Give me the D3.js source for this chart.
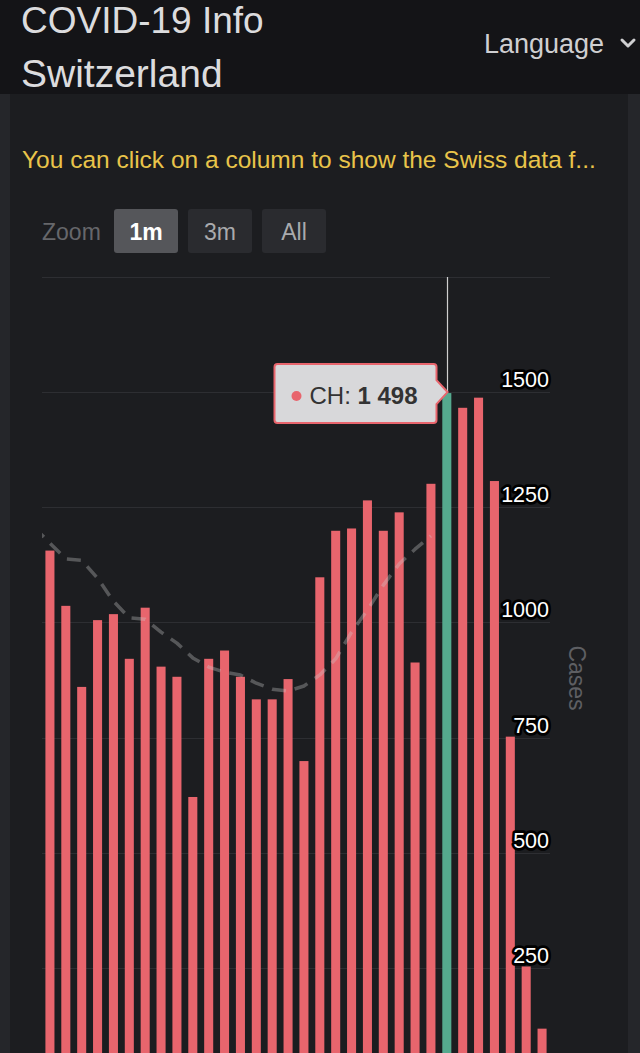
<!DOCTYPE html>
<html>
<head>
<meta charset="utf-8">
<script src="https://cdn.jsdelivr.net/npm/d3@7"></script>
<style>
  html, body { margin: 0; padding: 0; background: #141417; }
  svg { display: block; font-family: "Liberation Sans", Arial, sans-serif; }
</style>
</head>
<body>
<svg id="chart" width="640" height="1053"></svg>
<script>
// ---- data ----
const categories = ["D01","D02","D03","D04","D05","D06","D07","D08","D09","D10",
                    "D11","D12","D13","D14","D15","D16","D17","D18","D19","D20",
                    "D21","D22","D23","D24","D25","D26","D27","D28","D29","D30",
                    "D31","D32"];
const cases = [1156, 1036, 860, 1005, 1018, 921, 1032, 904, 882, 621,
               921, 939, 882, 833, 833, 877, 699, 1098, 1199, 1204,
               1265, 1199, 1239, 913, 1301, 1498, 1466, 1488, 1307, 752,
               253, 118];
// 7-day average; first value belongs to the day before the visible range
const avgStartIndex = -1;
const avgValues = [1207, 1172, 1138, 1135, 1096, 1046, 1010, 1007, 979, 955,
                   923, 903, 892, 886, 868, 855, 851, 862, 886, 921,
                   979, 1027, 1081, 1127, 1159, 1188];
const yTicks = [250, 500, 750, 1000, 1250, 1500, 1750];
const yLabels = [250, 500, 750, 1000, 1250, 1500];
const selectedIndex = 25;
const seriesName = "CH";

// ---- layout ----
const W = 640, H = 1053;
const plot = { left: 42, right: 550, top: 277, bottom: 1083 };
const RED = "#e8656d", GREEN = "#55a98e";

const svg = d3.select("#chart");

// backgrounds
svg.append("rect").attr("x", 0).attr("y", 0).attr("width", W).attr("height", H).attr("fill", "#25262a");
svg.append("rect").attr("x", 10).attr("y", 94).attr("width", 618).attr("height", H - 94).attr("fill", "#1c1d20");

// scales
const x = d3.scaleBand().domain(d3.range(categories.length)).range([plot.left, plot.right]).paddingInner(0.43).paddingOuter(0.215);
const xc = d3.scaleLinear().domain([0, 1]).range([x(0) + x.bandwidth() / 2, x(1) + x.bandwidth() / 2]);
const y = d3.scaleLinear().domain([0, 1750]).range([plot.bottom, plot.top]);

// gridlines
svg.append("g").selectAll("line").data(yTicks).join("line")
  .attr("x1", plot.left).attr("x2", plot.right)
  .attr("y1", d => Math.round(y(d)) + 0.5).attr("y2", d => Math.round(y(d)) + 0.5)
  .attr("stroke", "#2d2e32").attr("stroke-width", 1);

// bars
svg.append("g").selectAll("rect").data(cases).join("rect")
  .attr("x", (d, i) => x(i))
  .attr("width", x.bandwidth())
  .attr("y", d => y(d))
  .attr("height", d => y(0) - y(d))
  .attr("fill", (d, i) => i === selectedIndex ? GREEN : RED);

// dashed average line
svg.append("clipPath").attr("id", "plotclip").append("rect")
  .attr("x", plot.left).attr("y", plot.top).attr("width", plot.right - plot.left).attr("height", plot.bottom - plot.top);
const line = d3.line().x((d, i) => xc(i + avgStartIndex)).y(d => y(d));
svg.append("path").datum(avgValues)
  .attr("clip-path", "url(#plotclip)")
  .attr("d", line)
  .attr("fill", "none")
  .attr("stroke", "rgba(205,205,205,0.33)")
  .attr("stroke-width", 3.5)
  .attr("stroke-dasharray", "14,9")
  .attr("stroke-linejoin", "round");

// y-axis labels (right, outlined)
svg.append("g").selectAll("text").data(yLabels).join("text")
  .attr("x", plot.right - 1)
  .attr("y", d => y(d) - 5)
  .attr("text-anchor", "end")
  .attr("font-size", 21.5)
  .attr("fill", "#ffffff")
  .attr("stroke", "#000000")
  .attr("stroke-width", 5.5)
  .attr("stroke-linejoin", "round")
  .attr("paint-order", "stroke")
  .text(d => d);

// axis title
svg.append("text")
  .attr("transform", `translate(569, ${(y(1000) + y(750)) / 2 - 2}) rotate(90)`)
  .attr("text-anchor", "middle")
  .attr("font-size", 23)
  .attr("fill", "#5e5f63")
  .text("Cases");

// crosshair
const cx = Math.round(xc(selectedIndex)) + 0.5;
svg.append("line").attr("x1", cx).attr("x2", cx).attr("y1", plot.top).attr("y2", y(cases[selectedIndex]))
  .attr("stroke", "#cfcfcf").attr("stroke-width", 1.2);

// tooltip
const tipR = cx - 11, tipL = tipR - 162, tipT = 364, tipB = 423, tipMid = y(cases[selectedIndex]) - 1;
const tp = d3.path();
tp.moveTo(tipL + 3, tipT);
tp.lineTo(tipR - 3, tipT);
tp.quadraticCurveTo(tipR, tipT, tipR, tipT + 3);
tp.lineTo(tipR, tipMid - 12);
tp.lineTo(cx, tipMid);
tp.lineTo(tipR, tipMid + 12);
tp.lineTo(tipR, tipB - 3);
tp.quadraticCurveTo(tipR, tipB, tipR - 3, tipB);
tp.lineTo(tipL + 3, tipB);
tp.quadraticCurveTo(tipL, tipB, tipL, tipB - 3);
tp.lineTo(tipL, tipT + 3);
tp.quadraticCurveTo(tipL, tipT, tipL + 3, tipT);
tp.closePath();
svg.append("path").attr("d", tp.toString())
  .attr("fill", "#d8d8da").attr("stroke", RED).attr("stroke-width", 2);
svg.append("circle").attr("cx", tipL + 22).attr("cy", 396).attr("r", 5).attr("fill", RED);
const tt = svg.append("text").attr("x", tipL + 35).attr("y", 404).attr("font-size", 24).attr("fill", "#333333");
tt.append("tspan").text(seriesName + ": ");
tt.append("tspan").attr("font-weight", "bold").text(d3.format(",")(cases[selectedIndex]).replace(/,/g, " "));

// info text
svg.append("text").attr("x", 22).attr("y", 168).attr("font-size", 24.5).attr("fill", "#e9c44a")
  .text("You can click on a column to show the Swiss data f...");

// zoom buttons
svg.append("text").attr("x", 42).attr("y", 240).attr("font-size", 23).attr("fill", "#66676b").text("Zoom");
const buttons = [{ label: "1m", x: 114, active: true }, { label: "3m", x: 188 }, { label: "All", x: 262 }];
const bg = svg.append("g").selectAll("g").data(buttons).join("g");
bg.append("rect").attr("x", d => d.x).attr("y", 209).attr("width", 64).attr("height", 44).attr("rx", 3)
  .attr("fill", d => d.active ? "#55565a" : "#2a2b2f");
bg.append("text").attr("x", d => d.x + 32).attr("y", 240).attr("text-anchor", "middle").attr("font-size", 23)
  .attr("font-weight", d => d.active ? "bold" : "normal")
  .attr("fill", d => d.active ? "#ffffff" : "#a9aaad").text(d => d.label);

// header
svg.append("rect").attr("x", 0).attr("y", 0).attr("width", W).attr("height", 94).attr("fill", "#141417");
svg.append("text").attr("x", 21).attr("y", 33).attr("font-size", 37).attr("fill", "#dcdcde").text("COVID-19 Info");
svg.append("text").attr("x", 21).attr("y", 87).attr("font-size", 39).attr("fill", "#dcdcde").text("Switzerland");
svg.append("text").attr("x", 484).attr("y", 53).attr("font-size", 27).attr("fill", "#cfcfd1").text("Language");
svg.append("path").attr("d", "M622,40 L628,46 L634,40").attr("fill", "none").attr("stroke", "#cfcfd1").attr("stroke-width", 3).attr("stroke-linecap", "round").attr("stroke-linejoin", "round");
</script>
</body>
</html>
